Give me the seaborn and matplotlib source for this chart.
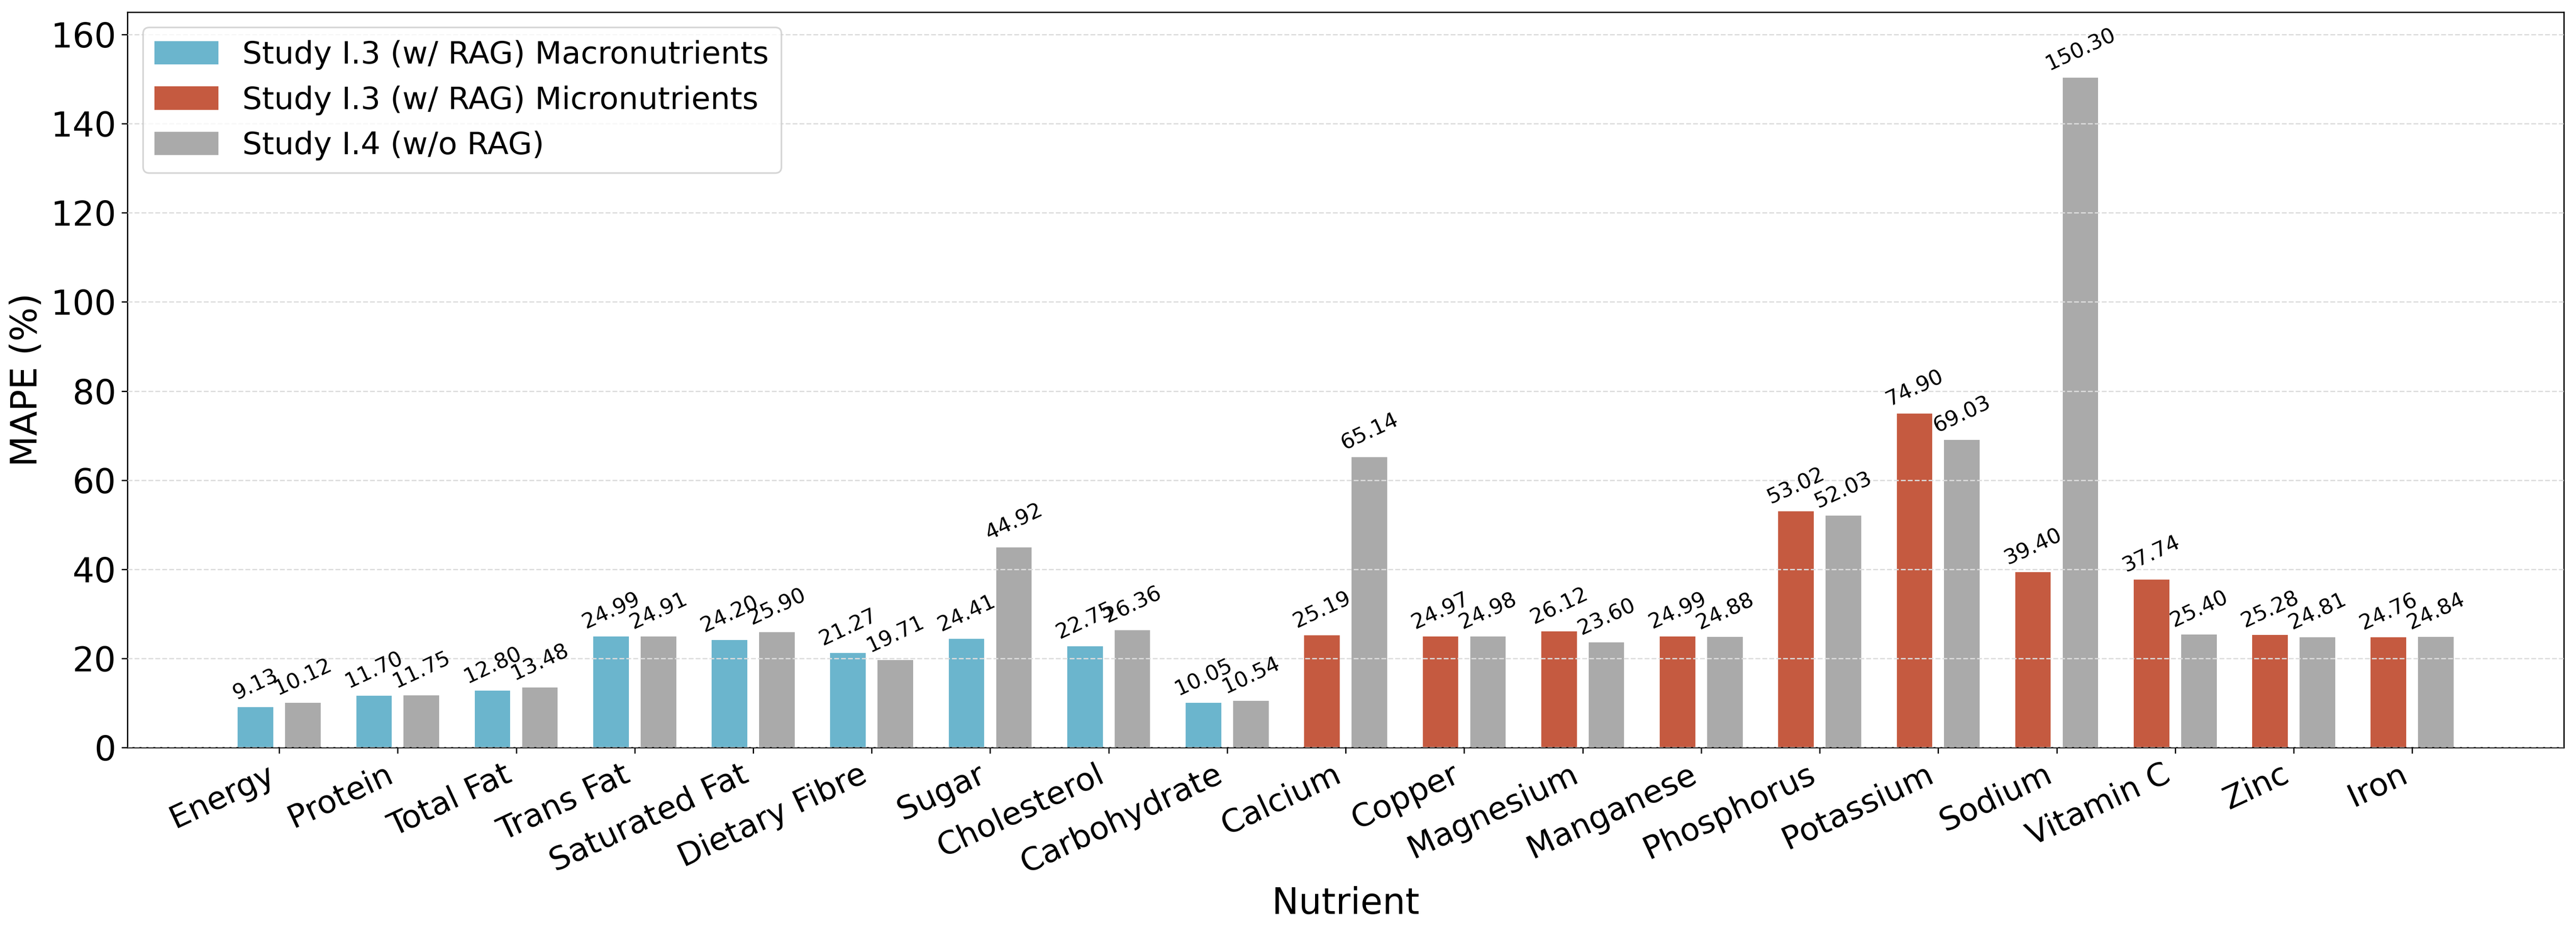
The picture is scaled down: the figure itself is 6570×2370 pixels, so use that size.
import pandas as pd
import matplotlib.pyplot as plt
import seaborn as sns
from matplotlib.patches import Patch

# values
macro_nutrients = ["Energy", "Protein", "Total Fat", "Trans Fat", "Saturated Fat",
                   "Dietary Fibre", "Sugar", "Cholesterol", "Carbohydrate"]
micro_nutrients = ["Calcium", "Copper", "Magnesium", "Manganese", "Phosphorus",
                   "Potassium", "Sodium", "Vitamin C", "Zinc", "Iron"]

rag_macro = [9.13, 11.70, 12.80, 24.99, 24.20, 21.27, 24.41, 22.75, 10.05]
rag_micro = [25.19, 24.97, 26.12, 24.99, 53.02, 74.90, 39.40, 37.74, 25.28, 24.76]
norag_macro = [10.12, 11.75, 13.48, 24.91, 25.90, 19.71, 44.92, 26.36, 10.54]
norag_micro = [65.14, 24.98, 23.60, 24.88, 52.03, 69.03, 150.30, 25.40, 24.81, 24.84]

nutrients = macro_nutrients + micro_nutrients
rag_vals = rag_macro + rag_micro
norag_vals = norag_macro + norag_micro

c_macro = "#6BB5CD"
c_micro = "#C55A40"
c_norag = "#AAAAAA"

#long format for seaborn
df = pd.DataFrame({
    "Nutrient": nutrients * 2,
    "MAPE": rag_vals + norag_vals,
    "Study": ["w/ RAG"] * len(nutrients) + ["w/o RAG"] * len(nutrients),
})

fig, ax = plt.subplots(figsize=(21.9, 7.9), dpi=300)
sns.barplot(data=df, x="Nutrient", y="MAPE", hue="Study", order=nutrients,
            hue_order=["w/ RAG", "w/o RAG"], palette=[c_macro, c_norag],
            saturation=1, width=0.8, gap=0.25, legend=False, ax=ax)

# micronutrient bars get the red colour
for i, bar in enumerate(ax.containers[0]):
    if nutrients[i] in micro_nutrients:
        bar.set_facecolor(c_micro)

# value labels
for cont in ax.containers:
    for bar in cont:
        h = bar.get_height()
        ax.text(bar.get_x() + bar.get_width() / 2, h + 0.8, f"{h:.2f}",
                rotation=25, ha="center", va="bottom", fontsize=13)

ax.set_ylim(0, 165)
ax.set_xlim(-1.28, len(nutrients) - 1 + 1.28)
ax.set_xlabel("Nutrient", fontsize=22)
ax.set_ylabel("MAPE (%)", fontsize=22)
ax.tick_params(axis="y", labelsize=21)
ax.tick_params(axis="x", labelsize=19.5)
plt.setp(ax.get_xticklabels(), rotation=25, ha="right")

ax.yaxis.grid(True, linestyle="--", color="#dcdcdc", linewidth=0.8)
ax.set_axisbelow(False)
for s in ax.spines.values():
    s.set_visible(True)
    s.set_color("black")

handles = [Patch(color=c_macro, label="Study I.3 (w/ RAG) Macronutrients"),
           Patch(color=c_micro, label="Study I.3 (w/ RAG) Micronutrients"),
           Patch(color=c_norag, label="Study I.4 (w/o RAG)")]
ax.legend(handles=handles, loc="upper left", fontsize=19)

plt.subplots_adjust(left=0.0495, right=0.9953, top=0.987, bottom=0.196)
plt.savefig("out.png", dpi=300)
